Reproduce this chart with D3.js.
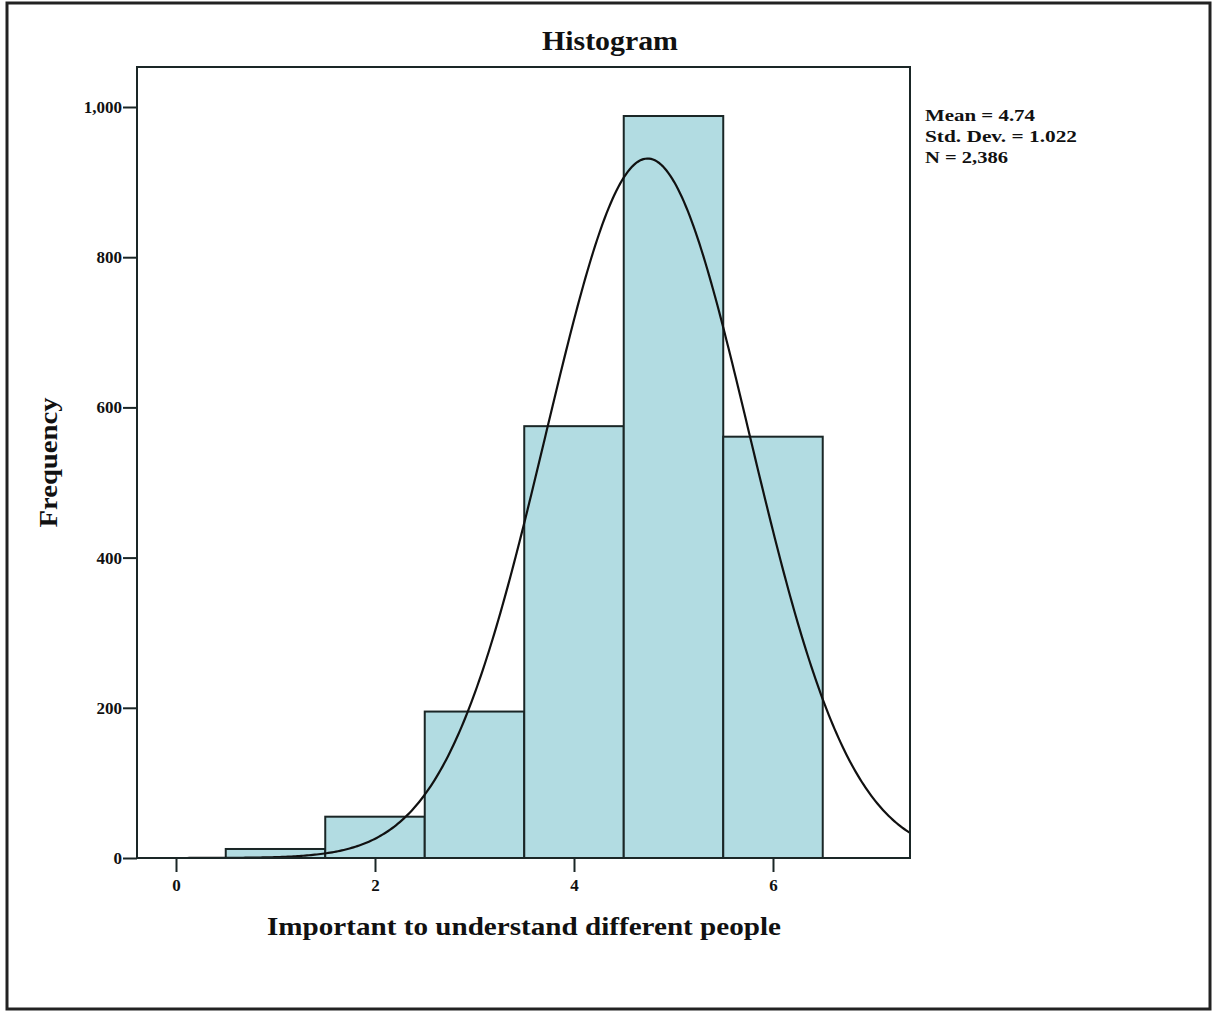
<!DOCTYPE html>
<html><head><meta charset="utf-8">
<script src="https://cdn.jsdelivr.net/npm/d3@7"></script>
<style>body{margin:0;background:#fff}svg{display:block}text{font-family:"Liberation Serif","Times New Roman",serif;font-weight:bold;fill:#111}</style>
</head><body>
<script>
const binCenters = [1, 2, 3, 4, 5, 6];
const frequencies = [12, 55, 195, 575, 988, 561];
const xTicks = [0, 2, 4, 6];
const yTicks = [0, 200, 400, 600, 800, 1000];
const statsLines = ["Mean = 4.74", "Std. Dev. = 1.022", "N = 2,386"];
const statsWidths = [110, 152, 83];
const mean = 4.74, sd = 1.022, N = 2386, binWidth = 1;

const W = 1213, H = 1012;
const svg = d3.select("body").append("svg").attr("width", W).attr("height", H);
svg.append("rect").attr("x", 7).attr("y", 3).attr("width", 1203).attr("height", 1006)
  .attr("fill", "#fff").attr("stroke", "#222").attr("stroke-width", 3);

const L = 137, R = 910, T = 67, B = 858;
const x = d3.scaleLinear().domain([-0.392, 7.377]).range([L, R]);
const y = d3.scaleLinear().domain([0, 1000]).range([B, 107]);

const g = svg.append("g");
g.selectAll("rect.bar").data(binCenters).join("rect").attr("class", "bar")
  .attr("x", d => x(d - binWidth / 2)).attr("width", d => x(d + binWidth / 2) - x(d - binWidth / 2))
  .attr("y", (d, i) => y(frequencies[i])).attr("height", (d, i) => B - y(frequencies[i]))
  .attr("fill", "#b2dce2").attr("stroke", "#1a2626").attr("stroke-width", 2);

const xs = d3.range(0, 401).map(i => x.domain()[0] + (x.domain()[1] - x.domain()[0]) * i / 400);
const line = d3.line().x(d => x(d)).y(d => y(N * binWidth / (sd * Math.sqrt(2 * Math.PI)) * Math.exp(-0.5 * ((d - mean) / sd) ** 2)));
g.append("path").datum(xs).attr("d", line).attr("fill", "none").attr("stroke", "#111").attr("stroke-width", 2.2);

g.append("rect").attr("x", L).attr("y", T).attr("width", R - L).attr("height", B - T)
  .attr("fill", "none").attr("stroke", "#1a2626").attr("stroke-width", 2);

const yAxis = d3.axisLeft(y).tickValues(yTicks).tickSize(14).tickPadding(1).tickFormat(d3.format(","));
const ya = svg.append("g").attr("transform", `translate(${L},0)`).call(yAxis);
ya.select(".domain").remove();
ya.selectAll("line").attr("stroke", "#1a2626").attr("stroke-width", 2);
ya.selectAll("text").style("font-size", "17px").attr("fill", "#111");

const xAxis = d3.axisBottom(x).tickValues(xTicks).tickSize(14).tickPadding(7);
const xa = svg.append("g").attr("transform", `translate(0,${B})`).call(xAxis);
xa.select(".domain").remove();
xa.selectAll("line").attr("stroke", "#1a2626").attr("stroke-width", 2);
xa.selectAll("text").style("font-size", "17px").attr("fill", "#111");

svg.append("text").attr("x", 610).attr("y", 50).attr("text-anchor", "middle").style("font-size", "27px")
  .attr("textLength", 136).attr("lengthAdjust", "spacingAndGlyphs").text("Histogram");
svg.append("text").attr("x", 524).attr("y", 935).attr("text-anchor", "middle").style("font-size", "26px")
  .attr("textLength", 514).attr("lengthAdjust", "spacingAndGlyphs").text("Important to understand different people");
svg.append("text").attr("transform", `translate(57,${(T + B) / 2}) rotate(-90)`).attr("text-anchor", "middle").style("font-size", "25px")
  .attr("textLength", 130).attr("lengthAdjust", "spacingAndGlyphs").text("Frequency");

svg.append("g").selectAll("text").data(statsLines).join("text")
  .attr("x", 925).attr("y", (d, i) => 121 + i * 21).style("font-size", "17px")
  .attr("textLength", (d, i) => statsWidths[i]).attr("lengthAdjust", "spacingAndGlyphs").text(d => d);
</script>
</body></html>
